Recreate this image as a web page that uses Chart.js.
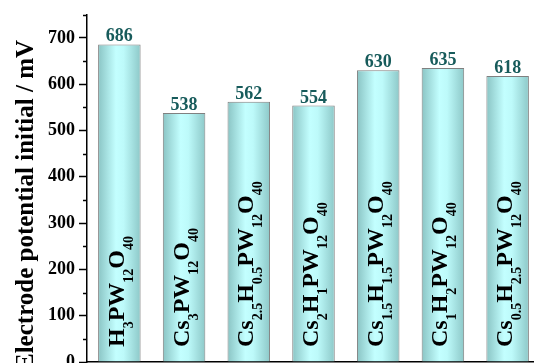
<!DOCTYPE html>
<html>
<head>
<meta charset="utf-8">
<script src="https://cdn.jsdelivr.net/npm/chart.js@4/dist/chart.umd.min.js"></script>
<style>
  html, body { margin: 0; padding: 0; overflow: hidden; background: #fff; }
  canvas { display: block; }
</style>
</head>
<body>
<canvas id="chart" width="540" height="380"></canvas>
<script>
// formulas, "_" marks a subscript run
const formulas = ["H_3PW_12O_40", "Cs_3PW_12O_40", "Cs_2.5H_0.5PW_12O_40", "Cs_2H_1PW_12O_40",
                  "Cs_1.5H_1.5PW_12O_40", "Cs_1H_2PW_12O_40", "Cs_0.5H_2.5PW_12O_40"];
const potentials = [686, 538, 562, 554, 630, 635, 618];
const yTitle = "Electrode potential initial / mV";
const yMin = 0;
const yMax = 750;
const yStep = 50;

const SERIF = '"Liberation Serif", "Times New Roman", serif';
const BAR_PCT = 0.657;

function el(id){ return document.getElementById(id); }

function splitFormula(f) {
  const parts = [];
  const re = /_([0-9.]+)|([^_]+?)(?=_|$)/g;
  let m;
  while ((m = re.exec(f)) !== null) {
    if (m[1] !== undefined) parts.push({ text: m[1], sub: true });
    else if (m[2]) parts.push({ text: m[2], sub: false });
  }
  return parts;
}

function barFill(c) {
  const chart = c.chart;
  const x = chart.scales.x;
  if (!chart.chartArea || !x || c.dataIndex === undefined) return "#b0eeee";
  const bw = x.width / formulas.length * BAR_PCT;
  const cx = x.getPixelForValue(c.dataIndex);
  const g = chart.ctx.createLinearGradient(cx - bw / 2, 0, cx + bw / 2, 0);
  g.addColorStop(0, "#8ac4c4");
  g.addColorStop(0.42, "#c3ffff");
  g.addColorStop(0.6, "#bdfafa");
  g.addColorStop(1, "#8dc8c8");
  return g;
}

const barText = {
  id: "barText",
  afterDatasetsDraw(chart) {
    const ctx = chart.ctx;
    const meta = chart.getDatasetMeta(0);
    const yScale = chart.scales.y;
    ctx.save();
    // value labels
    ctx.fillStyle = "#175b5b";
    ctx.font = "bold 18px " + SERIF;
    ctx.textAlign = "center";
    ctx.textBaseline = "alphabetic";
    meta.data.forEach((bar, i) => {
      ctx.fillText(String(potentials[i]), bar.x, bar.y - 3);
    });
    // formulas inside bars
    ctx.fillStyle = "#000";
    ctx.textAlign = "left";
    meta.data.forEach((bar, i) => {
      ctx.save();
      ctx.translate(bar.x + 4.5, yScale.bottom - 15);
      ctx.rotate(-Math.PI / 2);
      let pos = 0;
      splitFormula(formulas[i]).forEach(p => {
        ctx.font = p.sub ? "bold 14px " + SERIF : "bold 24px " + SERIF;
        ctx.fillText(p.text, pos, p.sub ? 9 : 0);
        pos += ctx.measureText(p.text).width;
      });
      ctx.restore();
    });
    // axis title, starts just below the visible area like the original
    ctx.save();
    ctx.translate(32.5, yScale.bottom + 8);
    ctx.rotate(-Math.PI / 2);
    ctx.font = "bold 25px " + SERIF;
    ctx.fillText(yTitle, 0, 0);
    ctx.restore();
    // minor ticks on y axis
    ctx.strokeStyle = "#000";
    ctx.lineWidth = 1.5;
    for (let v = yMin + yStep; v <= yMax; v += 2 * yStep) {
      const py = Math.round(yScale.getPixelForValue(v)) + 0.5;
      ctx.beginPath();
      ctx.moveTo(yScale.right - 4, py);
      ctx.lineTo(yScale.right, py);
      ctx.stroke();
    }
    ctx.restore();
  }
};

new Chart(el("chart"), {
  type: "bar",
  data: {
    labels: formulas.map(f => f.replace(/_/g, "")),
    datasets: [{
      data: potentials,
      backgroundColor: barFill,
      borderColor: "#808080",
      borderWidth: 1,
      categoryPercentage: 1,
      barPercentage: BAR_PCT
    }]
  },
  options: {
    responsive: false,
    animation: false,
    layout: { padding: { top: 14, left: 0, right: 0, bottom: 0 } },
    plugins: { legend: { display: false }, tooltip: { enabled: false } },
    scales: {
      x: {
        grid: { display: true, drawOnChartArea: false, drawTicks: false },
        border: { display: true, color: "#000", width: 1.5 },
        ticks: { display: false },
        afterFit: s => { s.height = 18; }
      },
      y: {
        min: yMin,
        max: yMax,
        grid: {
          drawOnChartArea: false,
          drawTicks: true,
          tickLength: 8,
          tickWidth: 1.5,
          tickColor: c => (c.tick && c.tick.value % 100 === 0) ? "#000" : "rgba(0,0,0,0)"
        },
        border: { display: true, color: "#000", width: 1.5 },
        ticks: {
          stepSize: yStep,
          padding: 4,
          color: "#000",
          font: { family: SERIF, size: 18, weight: "bold" },
          callback: v => (v % 100 === 0 ? v : "")
        },
        afterFit: s => { s.width = 87; }
      }
    }
  },
  plugins: [barText]
});
</script>
</body>
</html>
